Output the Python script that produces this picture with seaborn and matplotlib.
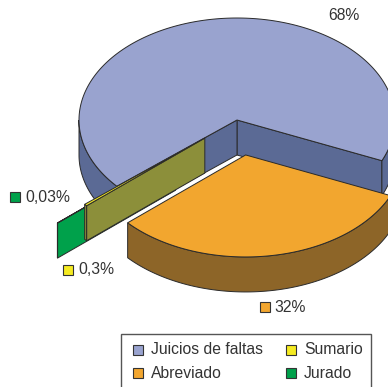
import numpy as np
import matplotlib
matplotlib.use("Agg")
import matplotlib.pyplot as plt
from matplotlib.patches import Polygon, Rectangle
import seaborn as sns

# Tipos de procedimiento y su porcentaje
categories = ["Juicios de faltas", "Abreviado", "Sumario", "Jurado"]
values = [68, 32, 0.3, 0.03]
value_labels = ["68%", "32%", "0,3%", "0,03%"]

sns.set_theme(style="white")
plt.rcParams["font.family"] = ["Liberation Sans", "DejaVu Sans"]

top_colors = {"Juicios de faltas": "#99A3CF", "Abreviado": "#F2A62F",
              "Sumario": "#F5EB22", "Jurado": "#00A14B"}
side_colors = {"Juicios de faltas": "#5B6A95", "Abreviado": "#8D6528",
               "Sumario": "#8C8F3A", "Jurado": "#00A14B"}
explode = {"Juicios de faltas": 0.0, "Abreviado": 0.347,
           "Sumario": 0.27, "Jurado": 0.52}

fig = plt.figure(figsize=(3.88, 3.87), dpi=100)
ax = fig.add_axes([0, 0, 1, 1])
ax.set_xlim(0, 388)
ax.set_ylim(387, 0)
ax.axis("off")

# projected ellipse of the pie
CX, CY, A, B, H = 237.0, 120.0, 158.0, 102.0, 35.0
START = -23.5
EDGE = "#2a2a2a"
LW = 0.7


def rim(c, th, dz=0.0):
    t = np.radians(th)
    return (c[0] + A * np.cos(t), c[1] - B * np.sin(t) + dz)


def arc(c, t1, t2, dz=0.0, n=80):
    ts = np.linspace(t1, t2, max(2, int(n * abs(t2 - t1) / 90) + 2))
    return [rim(c, t, dz) for t in ts]


def front_ranges(t1, t2):
    out = []
    for k in range(-2, 3):
        lo, hi = max(t1, 180 + 360 * k), min(t2, 360 + 360 * k)
        if hi > lo:
            out.append((lo, hi))
    return out


total = sum(values)
spans = {}
ang = START
for cat in ["Juicios de faltas", "Sumario", "Jurado", "Abreviado"]:
    span = values[categories.index(cat)] / total * 360
    spans[cat] = (ang, ang + span)
    ang += span

centers = {}
for cat, (t1, t2) in spans.items():
    mid = np.radians((t1 + t2) / 2)
    e = explode[cat]
    centers[cat] = (CX + e * A * np.cos(mid), CY - e * B * np.sin(mid))


def draw_slice(cat):
    t1, t2 = spans[cat]
    c = centers[cat]
    top, side = top_colors[cat], side_colors[cat]
    faces = []
    if np.cos(np.radians(t1)) > 0:
        faces.append(t1)
    if np.cos(np.radians(t2)) < 0:
        faces.append(t2)
    for t in faces:
        p = rim(c, t)
        poly = [c, p, (p[0], p[1] + H), (c[0], c[1] + H)]
        ax.add_patch(Polygon(poly, closed=True, fc=side, ec=EDGE, lw=LW))
    for lo, hi in front_ranges(t1, t2):
        poly = arc(c, lo, hi) + arc(c, hi, lo, H)
        ax.add_patch(Polygon(poly, closed=True, fc=side, ec=EDGE, lw=LW))
    poly = [c] + arc(c, t1, t2)
    ax.add_patch(Polygon(poly, closed=True, fc=top, ec=EDGE, lw=LW))


for cat in ["Juicios de faltas", "Abreviado", "Jurado", "Sumario"]:
    draw_slice(cat)

TXT = "#333333"
FS = 11.3


def marker(x, y, color, s=10):
    ax.add_patch(Rectangle((x - s / 2, y - s / 2), s, s, fc=color,
                           ec="#333333", lw=0.8))


# value labels
ax.text(344, 16, value_labels[0], ha="center", va="center", fontsize=FS, color=TXT)
marker(265, 307, top_colors["Abreviado"])
ax.text(274, 307, value_labels[1], ha="left", va="center", fontsize=FS, color=TXT)
marker(68, 270, top_colors["Sumario"])
ax.text(78, 270, value_labels[2], ha="left", va="center", fontsize=FS, color=TXT)
marker(15, 197, top_colors["Jurado"])
ax.text(25, 197, value_labels[3], ha="left", va="center", fontsize=FS, color=TXT)

# legend
ax.add_patch(Rectangle((120.5, 334), 250.5, 70, fc="white", ec="#555555", lw=1.0))
legend_pos = {"Juicios de faltas": (138, 350), "Abreviado": (138, 373),
              "Sumario": (291, 350), "Jurado": (291, 373)}
for cat in categories:
    x, y = legend_pos[cat]
    marker(x, y, top_colors[cat])
    ax.text(x + 13, y, cat, ha="left", va="center", fontsize=FS, color=TXT)

fig.savefig("out.png", dpi=100)
